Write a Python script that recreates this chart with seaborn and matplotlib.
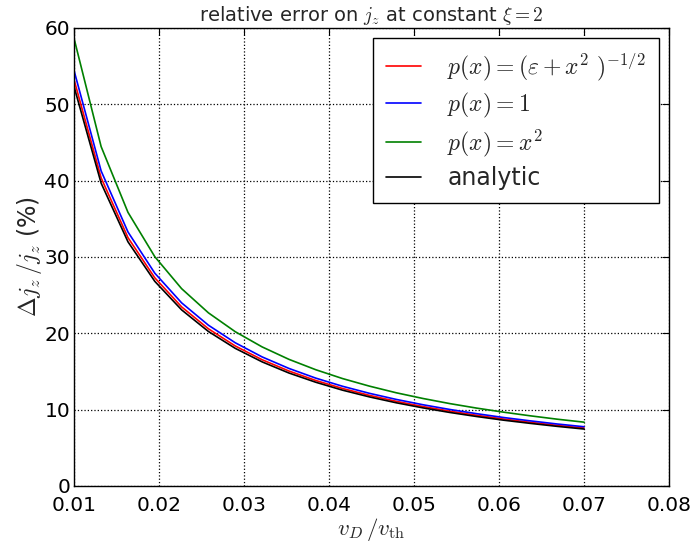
import numpy as np
import pandas as pd
import matplotlib
matplotlib.use("Agg")
import matplotlib.pyplot as plt
import seaborn as sns

# x values (v_D / v_th)
x_vals = [0.010000, 0.013158, 0.016316, 0.019474, 0.022632, 0.025789, 0.028947,
          0.032105, 0.035263, 0.038421, 0.041579, 0.044737, 0.047895, 0.051053,
          0.054211, 0.057368, 0.060526, 0.063684, 0.066842, 0.070000]

red_vals = [53.10, 40.36, 32.54, 27.27, 23.46, 20.59, 18.34, 16.54, 15.06, 13.82,
            12.77, 11.87, 11.09, 10.40, 9.80, 9.26, 8.77, 8.34, 7.94, 7.59]
blue_vals = [54.30, 41.27, 33.28, 27.88, 23.99, 21.06, 18.76, 16.91, 15.40, 14.13,
             13.06, 12.14, 11.34, 10.64, 10.02, 9.47, 8.97, 8.53, 8.12, 7.76]
green_vals = [58.50, 44.46, 35.85, 30.04, 25.85, 22.68, 20.21, 18.22, 16.59, 15.23,
              14.07, 13.08, 12.21, 11.46, 10.79, 10.20, 9.67, 9.19, 8.75, 8.36]
black_vals = [52.20, 39.67, 31.99, 26.81, 23.07, 20.24, 18.03, 16.26, 14.80, 13.59,
              12.55, 11.67, 10.90, 10.23, 9.63, 9.10, 8.62, 8.20, 7.81, 7.46]

labels = [r'$p(x)=(\varepsilon+x^2\ )^{-1/2}$', r'$p(x)=1$', r'$p(x)=x^2$', 'analytic']
colors = ['red', 'blue', 'green', 'black']
x_ticks = [0.01, 0.02, 0.03, 0.04, 0.05, 0.06, 0.07, 0.08]
y_ticks = [0, 10, 20, 30, 40, 50, 60]

sns.set_style("white")
plt.rcParams['font.family'] = ['DejaVu Sans']
plt.rcParams['mathtext.fontset'] = 'cm'
plt.rcParams['xtick.direction'] = 'in'
plt.rcParams['ytick.direction'] = 'in'

rows = []
for lab, vals in zip(labels, [red_vals, blue_vals, green_vals, black_vals]):
    for xv, yv in zip(x_vals, vals):
        rows.append({'x': xv, 'y': yv, 'series': lab})
df = pd.DataFrame(rows)

fig = plt.figure(figsize=(6.95, 5.43), dpi=100)
ax = fig.add_axes([0.1069, 0.1050, 0.8557, 0.8435])

sns.lineplot(data=df, x='x', y='y', hue='series', hue_order=labels,
             palette=dict(zip(labels, colors)), estimator=None, sort=False,
             linewidth=1.2, ax=ax)

ax.set_xlim(0.01, 0.08)
ax.set_ylim(0, 60)
ax.set_xticks(x_ticks)
ax.set_xticklabels([f'{t:.2f}' for t in x_ticks])
ax.set_yticks(y_ticks)
ax.set_yticklabels([str(t) for t in y_ticks])
ax.tick_params(axis='both', which='major', labelsize=14.5, length=5, width=0.8,
               top=True, right=True, direction='in', colors='black')
ax.tick_params(axis='x', pad=7)
ax.tick_params(axis='y', pad=3)
ax.grid(True, linestyle=':', color='black', linewidth=0.9)
for s in ax.spines.values():
    s.set_color('black')
    s.set_linewidth(1.0)

ax.set_xlabel(r'$v_D\,/v_{\rm th}$', fontsize=16.5, labelpad=1)
ax.set_ylabel(r'$\Delta j_z\,/j_z$ (%)', fontsize=17, labelpad=0)
ax.set_title(r'relative error on $j_z$ at constant $\xi=2$', fontsize=14, pad=5)

handles, labs = ax.get_legend_handles_labels()
leg = ax.legend(handles, labs, loc='upper right', fontsize=17, frameon=True,
                fancybox=False, edgecolor='black', framealpha=1,
                borderaxespad=0.42, handlelength=1.5, handletextpad=1.1,
                labelspacing=0.32, borderpad=0.55)
leg.get_frame().set_linewidth(1.0)

fig.savefig('out.png', dpi=100)
